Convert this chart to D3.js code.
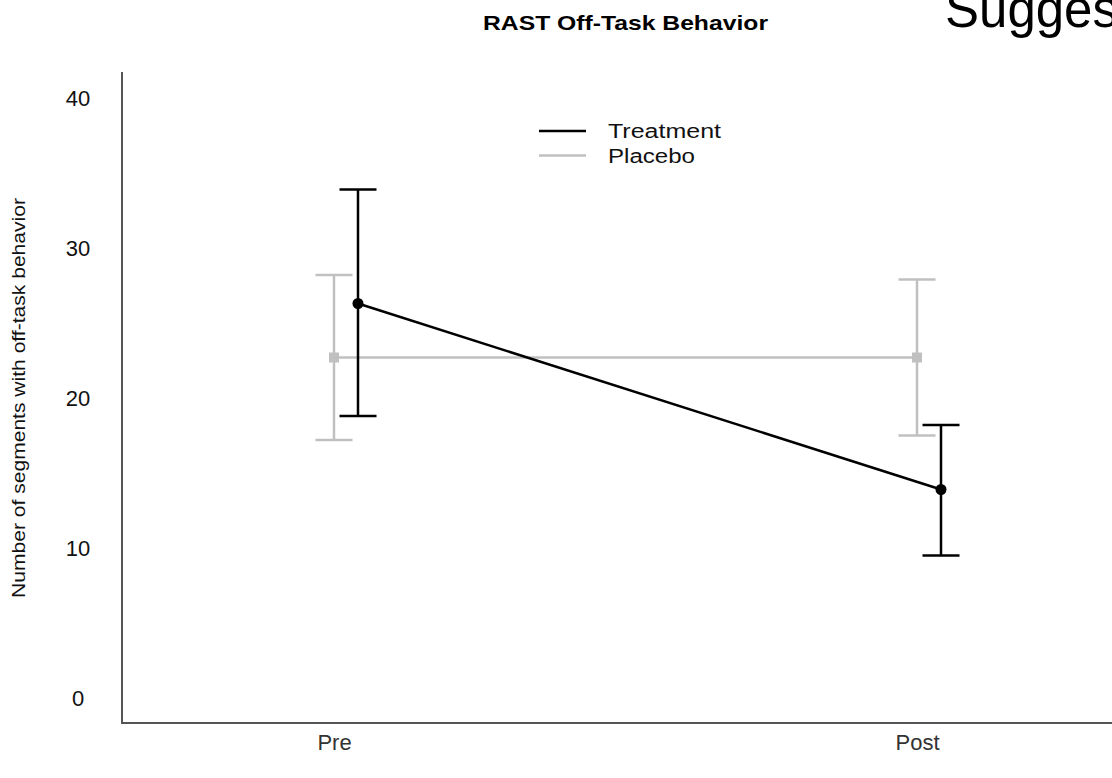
<!DOCTYPE html>
<html>
<head>
<meta charset="utf-8">
<script src="https://cdn.jsdelivr.net/npm/d3@7"></script>
<style>
  html, body { margin: 0; padding: 0; background: #fff; }
  svg { display: block; font-family: "Liberation Sans", Arial, sans-serif; }
</style>
</head>
<body>
<svg id="chart" width="1112" height="778"></svg>
<script>
// Time points and groups
const categories = ["Pre", "Post"];
const series = ["Treatment", "Placebo"];

// Group means with error-bar limits (segments with off-task behavior)
const treatmentMean = [26.3, 13.9];
const treatmentLow  = [18.8, 9.5];
const treatmentHigh = [33.9, 18.2];
const placeboMean   = [22.7, 22.7];
const placeboLow    = [17.2, 17.5];
const placeboHigh   = [28.2, 27.9];

const yTicks = [0, 10, 20, 30, 40];

const groups = [
  { name: series[0], mean: treatmentMean, low: treatmentLow, high: treatmentHigh, color: "#000000", marker: "circle", labelWidth: 113 },
  { name: series[1], mean: placeboMean,   low: placeboLow,   high: placeboHigh,   color: "#c0c0c0", marker: "square", labelWidth: 87 }
];

const svg = d3.select("#chart");

const axisLeftX = 122, axisBottomY = 723, axisTopY = 72;

const x = d3.scalePoint().domain(categories).range([334, 917]);
const dodge = d3.scalePoint().domain(["Placebo", "Treatment"]).range([0, 24]);
const y = d3.scaleLinear().domain([0, 40]).range([698, 98]);

// Title
svg.append("text")
  .attr("x", 483).attr("y", 30)
  .attr("font-size", 21).attr("font-weight", "bold")
  .attr("textLength", 285).attr("lengthAdjust", "spacingAndGlyphs")
  .attr("fill", "#000")
  .text("RAST Off-Task Behavior");

// Heading text at the top right edge
svg.append("text")
  .attr("x", 945).attr("y", 27)
  .attr("font-size", 51)
  .attr("fill", "#000")
  .text("Sugges");

// Axis lines
svg.append("line")
  .attr("x1", axisLeftX).attr("x2", axisLeftX)
  .attr("y1", axisTopY).attr("y2", axisBottomY)
  .attr("stroke", "#555").attr("stroke-width", 2);
svg.append("line")
  .attr("x1", axisLeftX - 1).attr("x2", 1112)
  .attr("y1", axisBottomY).attr("y2", axisBottomY)
  .attr("stroke", "#555").attr("stroke-width", 2);

// Y tick labels
const yAxis = d3.axisLeft(y).tickValues(yTicks).tickSize(0).tickFormat(d3.format("d"));
const gy = svg.append("g").attr("transform", "translate(78,0)").call(yAxis);
gy.select(".domain").remove();
gy.selectAll("text")
  .attr("x", 0).attr("dx", 0)
  .attr("text-anchor", "middle")
  .attr("font-size", 22)
  .attr("font-family", "Liberation Sans, Arial, sans-serif")
  .attr("fill", "#111");

// X tick labels
const xAxis = d3.axisBottom(x).tickSize(0);
const gx = svg.append("g").attr("transform", "translate(0,732)").call(xAxis);
gx.select(".domain").remove();
gx.selectAll("text")
  .attr("y", 0).attr("dy", "0.8em")
  .attr("font-size", 22)
  .attr("font-family", "Liberation Sans, Arial, sans-serif")
  .attr("fill", "#333");

// Y axis title
svg.append("text")
  .attr("transform", "translate(25,398) rotate(-90)")
  .attr("text-anchor", "middle")
  .attr("font-size", 19)
  .attr("textLength", 400).attr("lengthAdjust", "spacingAndGlyphs")
  .attr("fill", "#111")
  .text("Number of segments with off-task behavior");

// Series: draw placebo first so treatment sits on top
const plotOrder = [groups[1], groups[0]];
const capHalf = 18.5;

plotOrder.forEach(g => {
  const px = i => x(categories[i]) + dodge(g.name);
  const layer = svg.append("g");

  const line = d3.line()
    .x((d, i) => px(i))
    .y(d => y(d));
  layer.append("path")
    .datum(g.mean)
    .attr("d", line)
    .attr("fill", "none")
    .attr("stroke", g.color)
    .attr("stroke-width", 2.5);

  categories.forEach((c, i) => {
    const cx = px(i);
    layer.append("line")
      .attr("x1", cx).attr("x2", cx)
      .attr("y1", y(g.high[i])).attr("y2", y(g.low[i]))
      .attr("stroke", g.color).attr("stroke-width", 2.5);
    [g.high[i], g.low[i]].forEach(v => {
      layer.append("line")
        .attr("x1", cx - capHalf).attr("x2", cx + capHalf)
        .attr("y1", y(v)).attr("y2", y(v))
        .attr("stroke", g.color).attr("stroke-width", 2.5);
    });
    if (g.marker === "circle") {
      layer.append("circle")
        .attr("cx", cx).attr("cy", y(g.mean[i])).attr("r", 5.5)
        .attr("fill", g.color);
    } else {
      layer.append("rect")
        .attr("x", cx - 5).attr("y", y(g.mean[i]) - 5)
        .attr("width", 10).attr("height", 10)
        .attr("fill", g.color);
    }
  });
});

// Legend
const legend = svg.append("g");
groups.forEach((g, i) => {
  const ly = 131 + i * 24.5;
  legend.append("line")
    .attr("x1", 539).attr("x2", 586)
    .attr("y1", ly).attr("y2", ly)
    .attr("stroke", g.color).attr("stroke-width", 2.5);
  legend.append("text")
    .attr("x", 608).attr("y", ly + 7)
    .attr("font-size", 20)
    .attr("textLength", g.labelWidth).attr("lengthAdjust", "spacingAndGlyphs")
    .attr("fill", "#111")
    .text(g.name);
});
</script>
</body>
</html>
